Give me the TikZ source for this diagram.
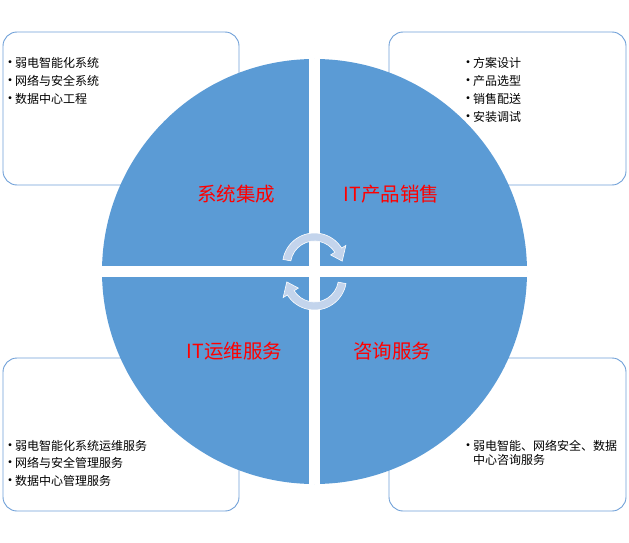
\documentclass[tikz,border=0pt]{standalone}
\usepackage{fontspec}
\setmainfont{Noto Sans CJK SC}
\definecolor{discblue}{HTML}{5B9BD5}
\definecolor{boxblue}{HTML}{6FA0D8}
\definecolor{arrowfill}{HTML}{C3D4EC}
\newcommand{\bul}{\llap{\makebox[10pt][c]{\fontsize{14}{14}\selectfont •}}}
\begin{document}
\begin{tikzpicture}[x=1pt,y=1pt,
  box/.style={draw=boxblue, line width=0.9pt, rounded corners=14pt, fill=white, inner sep=0pt},
  listline/.style={anchor=west, inner sep=0pt, font=\fontsize{12}{14}\selectfont},
  quadlabel/.style={text=red, inner sep=0pt, font=\fontsize{19.5}{22}\selectfont},
  cyc/.style={fill=arrowfill, draw=white, line width=0.6pt}]
\useasboundingbox (0,0) rectangle (629,542);
% boxes
\node[box, minimum width=236pt, minimum height=153pt] (tl) at (121,433.5) {};
\node[box, minimum width=237pt, minimum height=153pt] (tr) at (507.5,433.5) {};
\node[box, minimum width=236pt, minimum height=153pt] (bl) at (121,107.5) {};
\node[box, minimum width=237pt, minimum height=153pt] (br) at (507.5,107.5) {};
% disc
\fill[discblue] (314.5,270.5) circle[radius=212.5pt];
\begin{scope}
  \clip (314.5,270.5) circle[radius=213pt];
  \fill[white] (309,0) rectangle (320,542);
  \fill[white] (0,265) rectangle (629,276);
\end{scope}
% quadrant labels
\node[quadlabel] (q1) at (236,348) {系统集成};
\node[quadlabel] (q2) at (391.5,348) {IT产品销售};
\node[quadlabel] (q3) at (234.5,191) {IT运维服务};
\node[quadlabel] (q4) at (392,191) {咨询服务};
% cycle arrows
\begin{scope}[shift={(314.5,277)}]
  \path[cyc] (170:32) arc[start angle=170, end angle=32, radius=32]
    -- (32:37) -- (8:28) -- (32:19) -- (32:24)
    arc[start angle=32, end angle=170, radius=24] -- cycle;
\end{scope}
\begin{scope}[rotate around={180:(314.5,270.5)}, shift={(314.5,277)}]
  \path[cyc] (170:32) arc[start angle=170, end angle=32, radius=32]
    -- (32:37) -- (8:28) -- (32:19) -- (32:24)
    arc[start angle=32, end angle=170, radius=24] -- cycle;
\end{scope}
% top-left list
\node[listline] (tl1) at (15,479) {\bul 弱电智能化系统};
\node[listline] (tl2) at (15,461) {\bul 网络与安全系统};
\node[listline] (tl3) at (15,443) {\bul 数据中心工程};
% top-right list
\node[listline] (tr1) at (473,479) {\bul 方案设计};
\node[listline] (tr2) at (473,461) {\bul 产品选型};
\node[listline] (tr3) at (473,443) {\bul 销售配送};
\node[listline] (tr4) at (473,425) {\bul 安装调试};
% bottom-left list
\node[listline] (bl1) at (15,96) {\bul 弱电智能化系统运维服务};
\node[listline] (bl2) at (15,79) {\bul 网络与安全管理服务};
\node[listline] (bl3) at (15,61) {\bul 数据中心管理服务};
% bottom-right list
\node[listline] (br1) at (473,96) {\bul 弱电智能、网络安全、数据};
\node[listline] (br2) at (473,82) {中心咨询服务};
\end{tikzpicture}
\end{document}
